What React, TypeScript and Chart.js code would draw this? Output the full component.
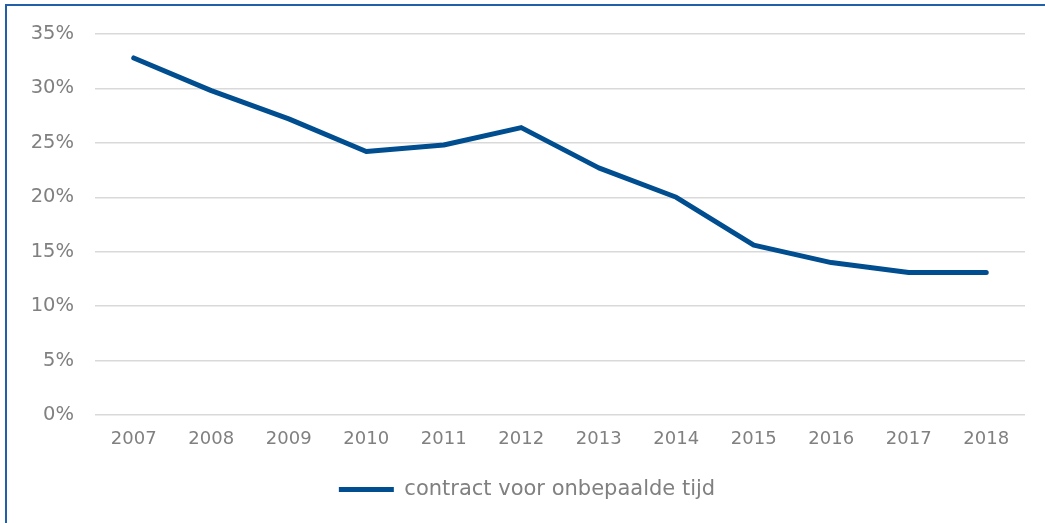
import React, { useEffect, useRef } from "react";
import { Chart, registerables } from "chart.js";

Chart.register(...registerables);

const years = ["2007", "2008", "2009", "2010", "2011", "2012", "2013", "2014", "2015", "2016", "2017", "2018"];
const contractValues = [32.8, 29.8, 27.2, 24.2, 24.8, 26.4, 22.7, 20.0, 15.6, 14.0, 13.1, 13.1];
const seriesLabel = "contract voor onbepaalde tijd";
const yTickValues = [0, 5, 10, 15, 20, 25, 30, 35];

const lineColor = "#004E8F";
const textColor = "#808080";
const gridColor = "#d9d9d9";
const fontFamily = "'DejaVu Sans', Verdana, sans-serif";

export default function App() {
  const canvasRef = useRef<HTMLCanvasElement | null>(null);

  useEffect(() => {
    if (!canvasRef.current) return;
    const chart = new Chart(canvasRef.current, {
      type: "line",
      data: {
        labels: years,
        datasets: [
          {
            label: seriesLabel,
            data: contractValues,
            borderColor: lineColor,
            backgroundColor: lineColor,
            borderWidth: 5,
            borderCapStyle: "round",
            borderJoinStyle: "round",
            pointRadius: 0,
            pointHoverRadius: 0,
            tension: 0,
            fill: false,
          },
        ],
      },
      options: {
        responsive: false,
        animation: false,
        layout: { padding: { left: 29, right: 20, top: 34, bottom: 13 } },
        plugins: {
          tooltip: { enabled: false },
          legend: {
            display: true,
            position: "bottom",
            labels: {
              usePointStyle: true,
              pointStyle: "line",
              pointStyleWidth: 55,
              color: textColor,
              font: { family: fontFamily, size: 21 },
              padding: 10,
            },
          },
        },
        scales: {
          x: {
            offset: true,
            grid: { display: false, drawTicks: false },
            border: { display: false },
            ticks: {
              color: textColor,
              font: { family: fontFamily, size: 18 },
              padding: 14,
              maxRotation: 0,
              autoSkip: false,
            },
            afterFit: (scale: any) => {
              scale.height = 54;
            },
          },
          y: {
            min: 0,
            max: 35,
            grid: { color: gridColor, lineWidth: 1.5, drawTicks: false },
            border: { display: false },
            afterBuildTicks: (scale: any) => {
              scale.ticks = yTickValues.map((v) => ({ value: v }));
            },
            ticks: {
              color: textColor,
              font: { family: fontFamily, size: 19.5 },
              padding: 21,
              callback: (v: any) => `${v}%`,
            },
            afterFit: (scale: any) => {
              scale.width = 66;
            },
          },
        },
      },
    });
    return () => chart.destroy();
  }, []);

  return (
    <div style={{ position: "fixed", left: 0, top: 0, width: 1045, height: 523, background: "#fff", overflow: "hidden" }}>
      <div
        style={{
          position: "absolute",
          left: 5,
          top: 4,
          width: 1200,
          height: 700,
          borderLeft: "2px solid #2160A8",
          borderTop: "2px solid #2160A8",
        }}
      />
      <canvas ref={canvasRef} width={1045} height={523} style={{ position: "absolute", left: 0, top: 0 }} />
    </div>
  );
}
